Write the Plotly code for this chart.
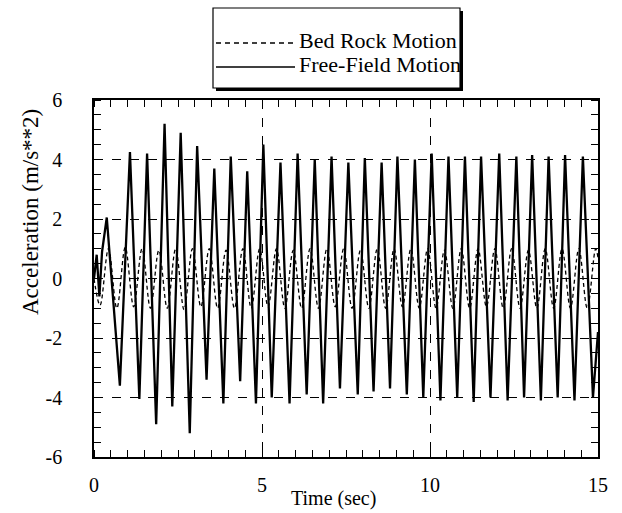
import plotly.graph_objects as go

# ---- data ----
FF_TIME = [0.00, 0.08, 0.16, 0.24, 0.38, 0.77, 1.07, 1.35, 1.58, 1.85, 2.10, 2.33, 2.58, 2.85, 3.07,
           3.35, 3.58, 3.85, 4.07, 4.35, 4.56, 4.82, 5.04, 5.29, 5.55, 5.82, 6.06, 6.33, 6.57, 6.82,
           7.07, 7.32, 7.57, 7.85, 8.06, 8.32, 8.56, 8.81, 9.03, 9.31, 9.55, 9.80, 10.05, 10.31, 10.55,
           10.81, 11.04, 11.30, 11.52, 11.80, 12.06, 12.31, 12.57, 12.80, 13.04, 13.30, 13.53, 13.80,
           14.02, 14.30, 14.55, 14.85, 15.00]
FF_ACC = [0.0, 0.8, -0.6, 0.9, 2.05, -3.6, 4.25, -4.05, 4.2, -4.9, 5.2, -4.3, 4.9, -5.2, 4.45,
          -3.4, 3.7, -4.2, 4.1, -3.45, 3.6, -4.2, 4.5, -4.0, 3.9, -4.2, 4.2, -3.9, 4.0, -4.2,
          4.1, -3.7, 3.9, -3.9, 4.05, -3.8, 3.9, -3.7, 4.1, -3.9, 4.0, -4.0, 4.2, -4.1, 4.1,
          -4.0, 4.1, -4.15, 4.1, -4.0, 4.2, -4.1, 4.1, -4.0, 4.15, -4.1, 4.1, -4.0,
          4.15, -4.1, 4.1, -4.0, -1.8]

BR_TIME = [0.00, 0.18, 0.43, 0.68, 0.93, 1.18, 1.43, 1.68, 1.93, 2.18, 2.43, 2.68, 2.93, 3.18, 3.43,
           3.68, 3.93, 4.18, 4.43, 4.68, 4.93, 5.18, 5.43, 5.68, 5.93, 6.18, 6.43, 6.68, 6.93, 7.18,
           7.43, 7.68, 7.93, 8.18, 8.43, 8.68, 8.93, 9.18, 9.43, 9.68, 9.93, 10.18, 10.43, 10.68,
           10.93, 11.18, 11.43, 11.68, 11.93, 12.18, 12.43, 12.68, 12.93, 13.18, 13.43, 13.68,
           13.93, 14.18, 14.43, 14.68, 14.93, 15.00]
BR_ACC = [0.0, -0.9, 1.0, -1.0, 1.05, -0.95, 1.0, -1.0, 0.95, -1.0, 1.0, -1.05, 1.0, -0.95, 1.0,
          -1.0, 0.95, -1.0, 1.0, -1.0, 1.0, -0.95, 1.0, -1.0, 0.95, -1.0, 1.0, -1.0, 1.0, -0.95,
          1.0, -1.0, 0.95, -1.0, 1.0, -1.0, 1.0, -0.95, 1.0, -1.0, 1.0, -1.0, 0.95, -1.0,
          1.0, -1.0, 1.0, -0.95, 1.0, -1.0, 1.0, -1.0, 0.95, -1.0, 1.0, -1.0,
          1.0, -1.0, 1.0, -1.0, 1.0, 0.7]

X_TICKS = [0, 5, 10, 15]
X_TICKTEXT = ["0", "5", "10", "15"]
Y_TICKS = [-6, -4, -2, 0, 2, 4, 6]
Y_TICKTEXT = ["-6", "-4", "-2", "0", "2", "4", "6"]
LEGEND_LABELS = ["Bed Rock Motion", "Free-Field Motion"]
X_TITLE = "Time (sec)"
Y_TITLE = "Acceleration (m/s**2)"

FONT = "Liberation Serif"
W, H = 622, 513
L, R, T, B = 94, 598, 100, 457  # plot area in pixels


def px(xpix):
    return (xpix - L) / (R - L)


def py(ypix):
    return (B - ypix) / (B - T)


fig = go.Figure()
fig.add_trace(go.Scatter(x=BR_TIME, y=BR_ACC, mode="lines", name=LEGEND_LABELS[0],
                         line=dict(color="black", width=1.3, dash="4px,3px", shape="spline", smoothing=1.0),
                         showlegend=False))
fig.add_trace(go.Scatter(x=FF_TIME, y=FF_ACC, mode="lines", name=LEGEND_LABELS[1],
                         line=dict(color="black", width=2.3), showlegend=False))

axis_common = dict(
    automargin=False,
    showline=True, linecolor="black", linewidth=1.6, mirror="allticks",
    # major ticks are transparent and outside: they only set the label distance
    ticks="outside", tickwidth=1, tickcolor="rgba(0,0,0,0)",
    showgrid=True, gridcolor="black", gridwidth=1, griddash="dash",
    zeroline=False,
    tickfont=dict(family=FONT, size=20, color="black"),
)
fig.update_xaxes(range=[0, 15], tickmode="array", tickvals=X_TICKS, ticktext=X_TICKTEXT, ticklen=9,
                 minor=dict(tickmode="linear", tick0=0, dtick=0.5, ticks="inside", ticklen=7,
                            tickwidth=1.3, tickcolor="black", showgrid=False),
                 **axis_common)
fig.update_yaxes(range=[-6, 6], tickmode="array", tickvals=Y_TICKS, ticktext=Y_TICKTEXT, ticklen=26,
                 minor=dict(tickmode="linear", tick0=0, dtick=0.5, ticks="inside", ticklen=7,
                            tickwidth=1.3, tickcolor="black", showgrid=False),
                 **axis_common)

shapes = []
# legend box with drop shadow
shapes.append(dict(type="rect", xref="paper", yref="paper", x0=px(216), x1=px(463), y0=py(91), y1=py(11),
                   fillcolor="black", line=dict(width=0)))
shapes.append(dict(type="rect", xref="paper", yref="paper", x0=px(213), x1=px(460), y0=py(88), y1=py(8),
                   fillcolor="white", line=dict(color="black", width=1.2)))
shapes.append(dict(type="line", xref="paper", yref="paper", x0=px(216), x1=px(295), y0=py(43), y1=py(43),
                   line=dict(color="black", width=1.4, dash="5px,4px")))
shapes.append(dict(type="line", xref="paper", yref="paper", x0=px(216), x1=px(295), y0=py(67), y1=py(67),
                   line=dict(color="black", width=1.6)))

annotations = [
    dict(xref="paper", yref="paper", x=px(297), y=py(41), text=LEGEND_LABELS[0], showarrow=False,
         xanchor="left", yanchor="middle", font=dict(family=FONT, size=22, color="black")),
    dict(xref="paper", yref="paper", x=px(297), y=py(65), text=LEGEND_LABELS[1], showarrow=False,
         xanchor="left", yanchor="middle", font=dict(family=FONT, size=22, color="black")),
    dict(xref="paper", yref="paper", x=px(333), y=py(498), text=X_TITLE, showarrow=False,
         xanchor="center", yanchor="middle", font=dict(family=FONT, size=20, color="black")),
    dict(xref="paper", yref="paper", x=px(30), y=py(212), text=Y_TITLE, showarrow=False, textangle=-90,
         xanchor="center", yanchor="middle", font=dict(family=FONT, size=23, color="black")),
]

fig.update_layout(
    width=W, height=H,
    margin=dict(l=L, r=W - R, t=T, b=H - B, autoexpand=False),
    paper_bgcolor="white", plot_bgcolor="white",
    font=dict(family=FONT, color="black"),
    shapes=shapes, annotations=annotations,
    showlegend=False,
)

fig.write_html("out.html")
